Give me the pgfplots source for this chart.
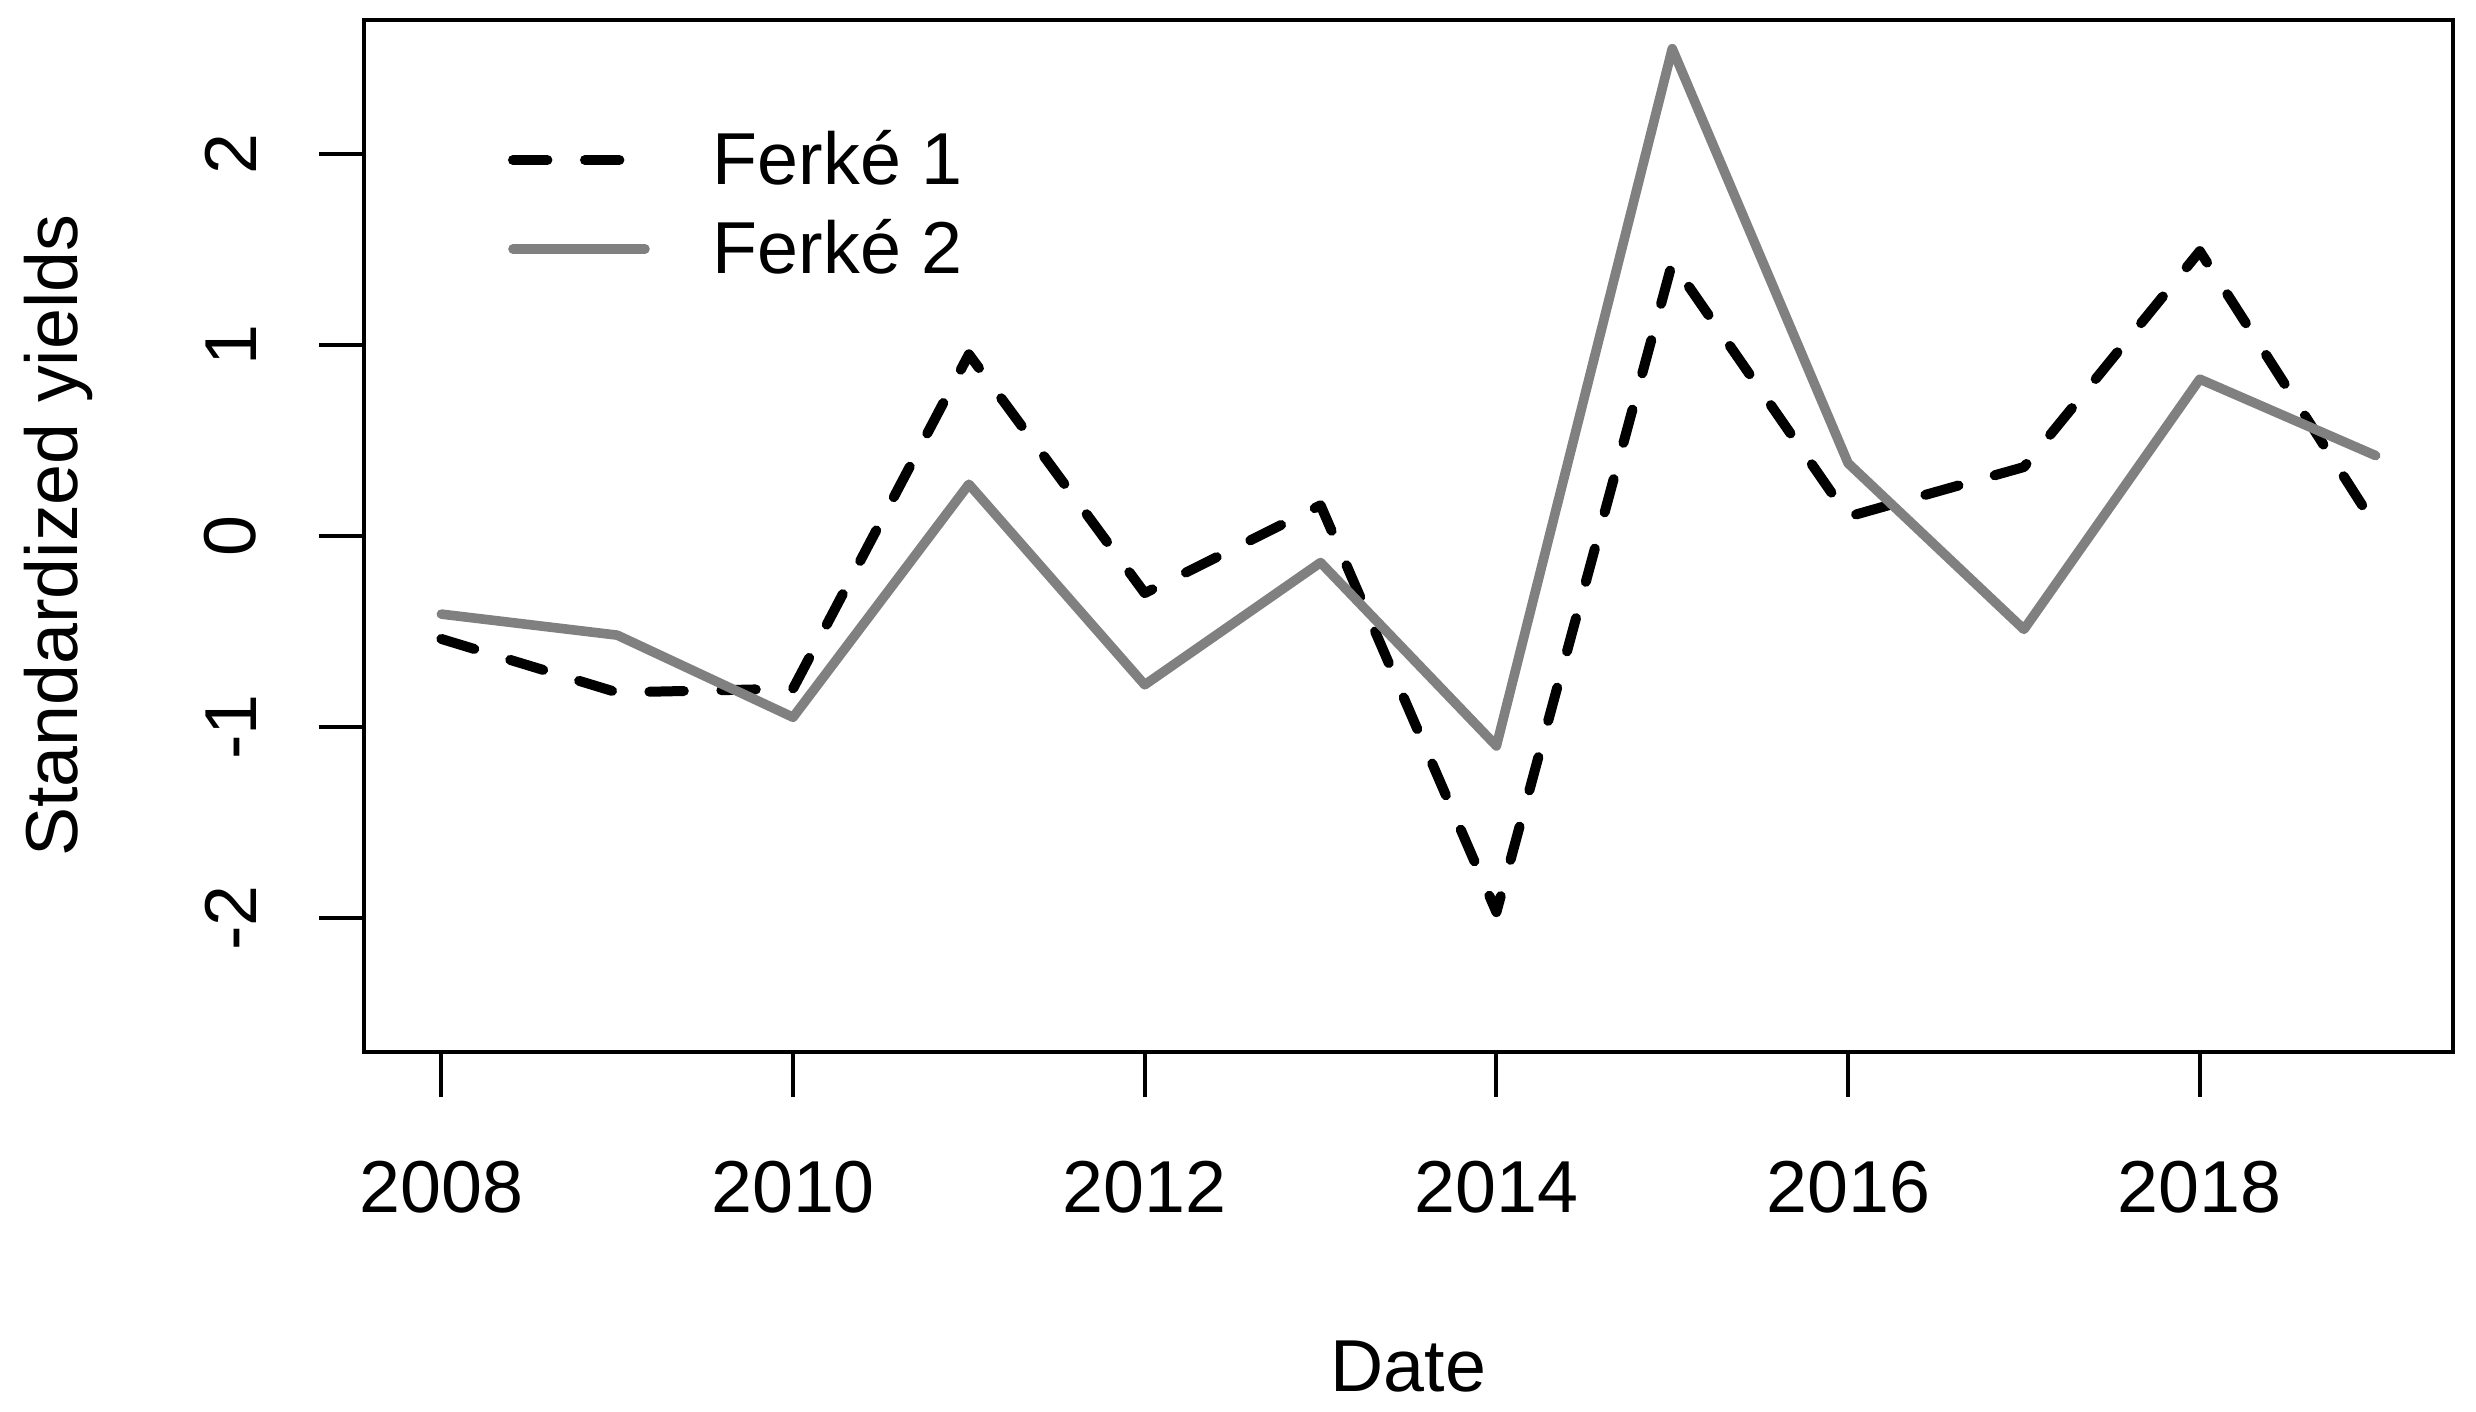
\documentclass[border=0pt]{standalone}
\usepackage{fontspec}
\setmainfont{Liberation Sans}
\usepackage{pgfplots}
\pgfplotsset{compat=1.18}
\definecolor{rgray}{HTML}{808080}
\begin{document}
\begin{tikzpicture}
\begin{axis}[
  scale only axis,
  width=522.25pt, height=257.9pt,
  at={(0,0)}, anchor=south west,
  xmin=2007.56, xmax=2019.44,
  ymin=-2.7, ymax=2.7,
  xtick={2008,2010,2012,2014,2016,2018},
  xticklabels={2008,2010,2012,2014,2016,2018},
  minor xtick={2008,2009,...,2019},
  ytick={-2,-1,0,1,2},
  yticklabels={-2,-1,0,1,2},
  tick pos=left,
  tick align=outside,
  major tick length=11.25pt,
  minor tick length=0pt,
  every tick/.style={black, line width=1pt},
  axis line style={black, line width=1pt},
  font=\fontsize{18.4pt}{22pt}\selectfont,
  tick label style={font=\fontsize{18.4pt}{22pt}\selectfont},
  xticklabel style={anchor=north, inner sep=0pt},
  xticklabel shift=15.9pt,
  yticklabel style={rotate=90, anchor=south, inner sep=0pt},
  yticklabel shift=15.5pt,
  xlabel={Date},
  ylabel={Standardized yields},
  xlabel style={at={(axis description cs:0.5,0)}, anchor=base, yshift=-85.1pt, inner sep=0pt, font=\fontsize{18.4pt}{22pt}\selectfont},
  ylabel style={at={(axis description cs:-0.13691,0.5)}, anchor=base, rotate=0, inner sep=0pt, font=\fontsize{18.4pt}{22pt}\selectfont},
  legend image code/.code={\draw[#1] (0pt,6pt) -- (33pt,6pt);},
  legend style={draw=none, fill=none, at={(axis description cs:0,1)}, anchor=north west,
    xshift=36pt, yshift=-26pt, inner sep=0pt, outer sep=0pt,
    row sep=7.25pt, column sep=15.75pt,
    font=\fontsize{18.4pt}{22pt}\selectfont,
    cells={anchor=base west},
    nodes={inner sep=0pt, text height=15pt, text depth=0pt}},
]
\addplot[black, line width=2.5pt, dash pattern=on 8.6pt off 9.4pt, line cap=round, line join=round] coordinates {
(2008,-0.54) (2009,-0.82) (2010,-0.80) (2011,0.95) (2012,-0.30) (2013,0.16)
(2014,-1.97) (2015,1.43) (2016,0.10) (2017,0.36) (2018,1.49) (2019,0.05)};
\addlegendentry{Ferké 1}
\addplot[rgray, line width=2.4pt, line cap=round, line join=round] coordinates {
(2008,-0.41) (2009,-0.52) (2010,-0.95) (2011,0.27) (2012,-0.78) (2013,-0.14)
(2014,-1.10) (2015,2.55) (2016,0.38) (2017,-0.49) (2018,0.82) (2019,0.42)};
\addlegendentry{Ferké 2}
\end{axis}
\pgfresetboundingbox
\path[use as bounding box] (-91pt,-90.1pt) rectangle (528pt,262.9pt);
\end{tikzpicture}
\end{document}
